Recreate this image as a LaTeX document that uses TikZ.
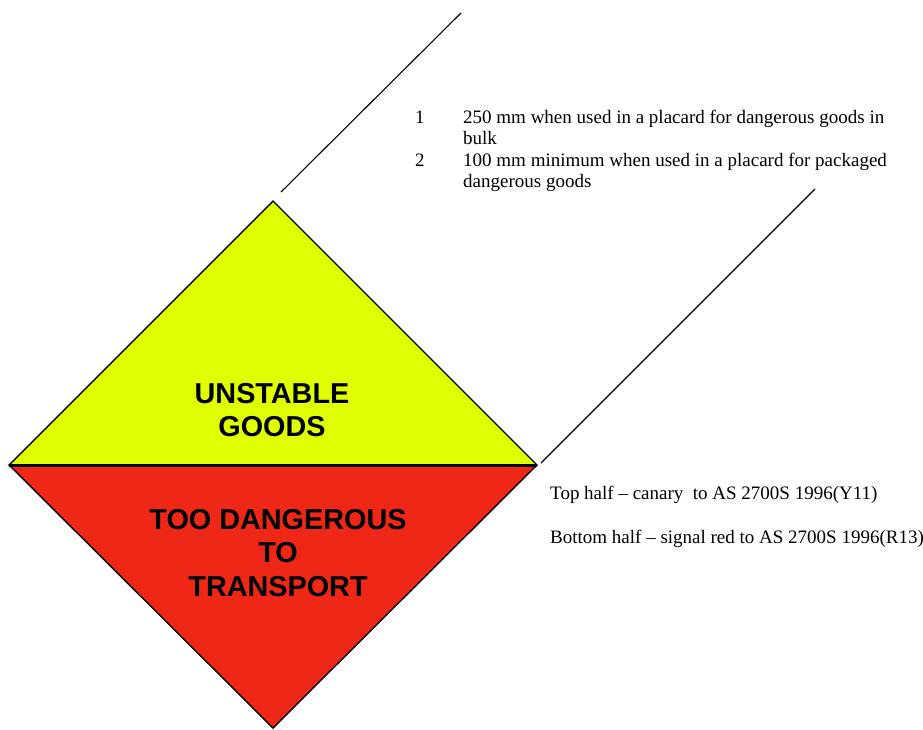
\documentclass[tikz,border=0pt]{standalone}
\usepackage{fontspec}
\setmainfont{Liberation Serif}
\setsansfont{Liberation Sans}
\usetikzlibrary{positioning}

\definecolor{canary}{RGB}{224,255,0}
\definecolor{signalred}{RGB}{238,39,22}

\begin{document}
\begin{tikzpicture}[x=1pt, y=-1pt, node distance=21.6pt,
    placard/.style={font=\sffamily\bfseries\fontsize{28.8}{33.5}\selectfont, align=center, inner sep=0pt},
    note/.style={font=\fontsize{19}{21.6}\selectfont, inner sep=0pt, anchor=base west},
    leader/.style={line width=1.1pt}]
    \useasboundingbox (0,0) rectangle (923,729);

    \coordinate (top) at (273,201);
    \coordinate (left) at (9,465);
    \coordinate (right) at (537,465);
    \coordinate (bottom) at (273,728);

    \fill[canary] (left) -- (top) -- (right) -- cycle;
    \fill[signalred] (left) -- (bottom) -- (right) -- cycle;
    \draw[line width=1.4pt, line join=miter] (left) -- (top) -- (right) -- (bottom) -- cycle;
    \draw[line width=3pt] (left) -- (right);

    \node[placard] (upper) at (272,410) {UNSTABLE\\GOODS};
    \node[placard] (lower) at (278,553) {TOO DANGEROUS\\TO\\TRANSPORT};

    % leader lines
    \coordinate (a1) at (281,192);
    \coordinate (a2) at (461,13);
    \coordinate (b1) at (541,463);
    \coordinate (b2) at (815,189);
    \draw[leader] (a1) -- (a2);
    \draw[leader] (b1) -- (b2);

    \node[note] (n1) at (415,123) {1};
    \node[note] (t1) at (463,123) {250 mm when used in a placard for dangerous goods in};
    \node[note, below=of t1.base west, anchor=base west] (t1b) {bulk};
    \node[note] (n2) at (415,166) {2};
    \node[note] (t2) at (463,166) {100 mm minimum when used in a placard for packaged};
    \node[note, below=of t2.base west, anchor=base west] (t2b) {dangerous goods};

    \node[note] (c1) at (550,499) {Top half -- canary\ \ to AS 2700S 1996(Y11)};
    \node[note] (c2) at (550,543) {Bottom half -- signal red to AS 2700S 1996(R13)};
\end{tikzpicture}
\end{document}
